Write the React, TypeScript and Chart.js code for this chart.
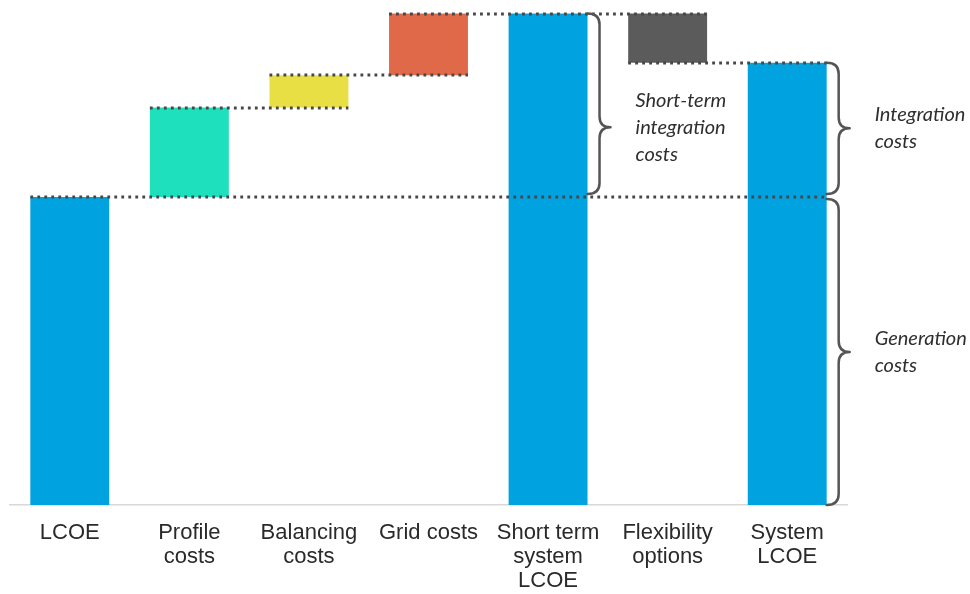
import { useEffect, useRef } from "react";
import { Chart, registerables } from "chart.js";

Chart.register(...registerables);

// Categories along the x axis (multi-line labels)
const categories: string[][] = [
  ["LCOE"],
  ["Profile", "costs"],
  ["Balancing", "costs"],
  ["Grid costs"],
  ["Short term", "system", "LCOE"],
  ["Flexibility", "options"],
  ["System", "LCOE"],
];

// How each bar relates to the running total
const barKinds = ["start", "step", "step", "step", "subtotal", "step", "subtotal"];
// Change contributed by each bar (subtotals just report the running total)
const stepValues = [100, 29, 10.5, 20, 0, -16, 0];

const barColors = ["#00a3df", "#1ee0bc", "#e7df44", "#e0694a", "#00a3df", "#5b5b5b", "#00a3df"];

// Dotted guide lines: [bar whose end level is traced, last bar the line reaches]
const guideSpans: [number, number][] = [
  [0, 6],
  [1, 2],
  [2, 3],
  [3, 5],
  [5, 6],
];

// Curly braces to the right of a bar: [bar, upper value, lower value]
const braceBar = [4, 6, 6];
const braceUpper = [159.5, 143.5, 100];
const braceLower = [100, 100, 0];
const braceTip = [0.63, 0.5, 0.5];
const braceText: string[][] = [
  ["Short-term", "integration", "costs"],
  ["Integration", "costs"],
  ["Generation", "costs"],
];

// Running-total ranges for the floating bars
const running: number[] = [];
const ranges: [number, number][] = [];
{
  let total = 0;
  stepValues.forEach((v, i) => {
    const kind = barKinds[i];
    if (kind === "start") {
      ranges.push([0, v]);
      total = v;
    } else if (kind === "step") {
      ranges.push([total, total + v]);
      total += v;
    } else {
      ranges.push([0, total]);
    }
    running.push(total);
  });
}

const overlayPlugin = {
  id: "waterfallOverlay",
  afterDatasetsDraw(chart: any) {
    const { ctx } = chart;
    const yScale = chart.scales.y;
    const meta = chart.getDatasetMeta(0);
    const edges = meta.data.map((el: any) => {
      const p = el.getProps(["x", "width"], true);
      return [p.x - p.width / 2, p.x + p.width / 2];
    });

    ctx.save();
    // dotted connectors
    ctx.strokeStyle = "#474747";
    ctx.lineWidth = 2.8;
    ctx.setLineDash([2.8, 4.2]);
    guideSpans.forEach(([from, to]) => {
      const py = Math.round(yScale.getPixelForValue(running[from]));
      ctx.beginPath();
      ctx.moveTo(edges[from][0], py);
      ctx.lineTo(edges[to][1], py);
      ctx.stroke();
    });
    ctx.setLineDash([]);

    // braces with their captions
    ctx.strokeStyle = "#555555";
    ctx.lineWidth = 2.5;
    ctx.lineJoin = "round";
    ctx.lineCap = "round";
    braceBar.forEach((bar, i) => {
      const xl = edges[bar][1];
      const xLine = xl + 12;
      const xTip = xl + 23;
      const yTop = yScale.getPixelForValue(braceUpper[i]) + (braceUpper[i] === running[0] ? 2 : 0);
      const yBot = yScale.getPixelForValue(braceLower[i]) - (braceLower[i] === 0 ? 0 : 3);
      const yTip = yTop + (yBot - yTop) * braceTip[i];
      const r = 11;
      ctx.beginPath();
      ctx.moveTo(xl, yTop);
      ctx.quadraticCurveTo(xLine, yTop, xLine, yTop + r);
      ctx.lineTo(xLine, yTip - r);
      ctx.quadraticCurveTo(xLine, yTip, xTip, yTip);
      ctx.quadraticCurveTo(xLine, yTip, xLine, yTip + r);
      ctx.lineTo(xLine, yBot - r);
      ctx.quadraticCurveTo(xLine, yBot, xl, yBot);
      ctx.stroke();

      const lines = braceText[i];
      const lh = 27;
      ctx.fillStyle = "#2e2e2e";
      ctx.font = "italic 20px Lato, 'Open Sans', sans-serif";
      ctx.textAlign = "left";
      ctx.textBaseline = "middle";
      lines.forEach((t, k) => {
        ctx.fillText(t, xTip + 25, yTip + (k - (lines.length - 1) / 2) * lh);
      });
    });
    ctx.restore();
  },
};

export default function App() {
  const canvasRef = useRef<HTMLCanvasElement>(null);

  useEffect(() => {
    const canvas = canvasRef.current;
    if (!canvas) return;
    const chart = new Chart(canvas, {
      type: "bar",
      data: {
        labels: categories,
        datasets: [
          {
            data: ranges as any,
            backgroundColor: barColors,
            borderWidth: 0,
            barPercentage: 0.66,
            categoryPercentage: 1,
          },
        ],
      },
      options: {
        responsive: false,
        animation: false,
        devicePixelRatio: 1,
        layout: { padding: { left: 10, right: 123, top: 12, bottom: 0 } },
        plugins: {
          legend: { display: false },
          tooltip: { enabled: false },
        },
        scales: {
          x: {
            grid: { display: false, drawTicks: false },
            border: { display: true, color: "#d8d8d8", width: 1.5 },
            ticks: {
              color: "#2a2a2a",
              padding: 16,
              maxRotation: 0,
              autoSkip: false,
              font: { family: "'Liberation Sans', Arial, sans-serif", size: 22, lineHeight: "24px" },
            },
            afterFit: (scale: any) => {
              scale.height = 89;
            },
          },
          y: {
            display: false,
            min: 0,
            max: 160,
          },
        },
      },
      plugins: [overlayPlugin],
    });
    return () => chart.destroy();
  }, []);

  return (
    <div style={{ position: "fixed", left: 0, top: 0, width: 970, height: 594, background: "#ffffff" }}>
      <canvas ref={canvasRef} width={970} height={594} style={{ display: "block" }} />
    </div>
  );
}
